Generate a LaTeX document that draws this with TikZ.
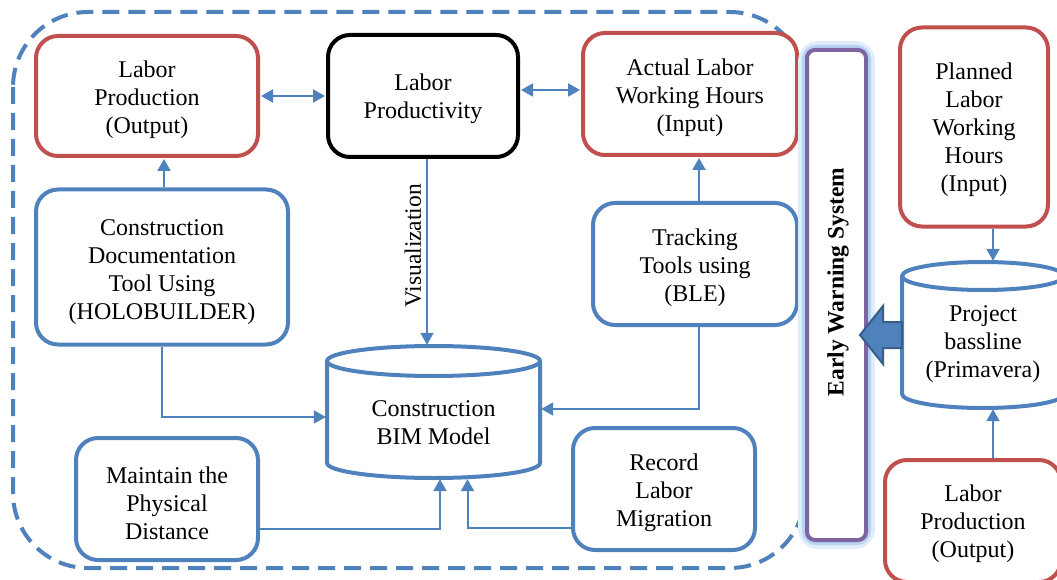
\documentclass[tikz,border=0pt]{standalone}
\usepackage{fontspec}
\setmainfont{Liberation Serif}
\usetikzlibrary{arrows.meta}
\definecolor{oblue}{HTML}{4F81BD}
\definecolor{ored}{HTML}{C0504D}
\definecolor{opurple}{HTML}{8064A2}
\definecolor{odark}{HTML}{385D8A}
\definecolor{glowout}{HTML}{E1ECFA}
\definecolor{glowin}{HTML}{B9D3F2}
\begin{document}
\begin{tikzpicture}[x=1pt,y=1pt,
  box/.style={draw, line width=4pt, rounded corners=22pt, fill=white, inner sep=0pt},
  redbox/.style={box, draw=ored},
  bluebox/.style={box, draw=oblue},
  blackbox/.style={box, draw=black},
  txt/.style={align=center, inner sep=0pt, font=\fontsize{24}{28}\selectfont},
  cylarea/.style={inner sep=0pt, draw=none},
  cylline/.style={draw=oblue, line width=4pt, fill=white},
  conn/.style={draw=oblue, line width=2pt, shorten >=1pt, -{Triangle[length=12pt,width=13pt]}},
  dconn/.style={draw=oblue, line width=2pt, shorten >=1pt, shorten <=1pt, {Triangle[length=12pt,width=13pt]}-{Triangle[length=12pt,width=13pt]}},
  group/.style={draw=oblue, line width=4pt, dash pattern=on 17pt off 9pt, rounded corners=75pt},
  ewsbox/.style={draw=opurple, line width=4pt, rounded corners=8pt, fill=white, inner sep=0pt},
  blockarrow/.style={fill=oblue, draw=odark, line width=2pt, line join=miter}
]
\useasboundingbox (0,0) rectangle (1057,-580);

% dashed group border
\draw[group] (13,-12) rectangle (805,-568);

% boxes in the group
\node[redbox, minimum width=222, minimum height=120] (lp) at (147,-96) {};
\node[txt] (lpt) at ([yshift=-4pt]lp.center) {Labor\\Production\\(Output)};
\node[blackbox, minimum width=190, minimum height=122] (prod) at (423,-96) {};
\node[txt] (prodt) at ([yshift=-3pt]prod.center) {Labor\\Productivity};
\node[redbox, minimum width=214, minimum height=122] (act) at (690,-94) {};
\node[txt] (actt) at ([yshift=-4pt]act.center) {Actual Labor\\Working Hours\\(Input)};
\node[bluebox, minimum width=252, minimum height=155] (holo) at (162,-267) {};
\node[txt] (holot) at ([yshift=-5pt]holo.center) {Construction\\Documentation\\Tool Using\\(HOLOBUILDER)};
\node[bluebox, minimum width=204, minimum height=122] (ble) at (695,-264) {};
\node[txt] (blet) at ([yshift=-4pt]ble.center) {Tracking\\Tools using\\(BLE)};
\node[bluebox, minimum width=182, minimum height=122] (dist) at (167,-499) {};
\node[txt] (distt) at ([yshift=-4pt]dist.center) {Maintain the\\Physical\\Distance};
\node[bluebox, minimum width=182, minimum height=122] (rec) at (664,-489) {};
\node[txt] (rect) at ([yshift=-4pt]rec.center) {Record\\Labor\\Migration};

% BIM cylinder
\node[cylarea, minimum width=213, minimum height=132] (bim) at (433.5,-412) {};
\draw[cylline] (327,-361) -- (327,-463) arc[start angle=180, end angle=360, x radius=106.5, y radius=15]
  -- (540,-361) arc[start angle=0, end angle=180, x radius=106.5, y radius=15] -- cycle;
\draw[cylline, fill=none] (327,-361) arc[start angle=180, end angle=360, x radius=106.5, y radius=15];
\node[txt] (bimtxt) at (433.5,-423) {Construction\\BIM Model};

% right side
\node[redbox, minimum width=148, minimum height=199] (plan) at (974,-127) {};
\node[txt] (plant) at ([yshift=-3pt]plan.center) {Planned\\Labor\\Working\\Hours\\(Input)};
\node[redbox, minimum width=176, minimum height=122] (lp2) at (973,-521) {};
\node[txt] (lp2t) at ([yshift=-3pt]lp2.center) {Labor\\Production\\(Output)};

\node[cylarea, minimum width=162, minimum height=146] (proj) at (983,-335) {};
\draw[cylline] (902,-276) -- (902,-394) arc[start angle=180, end angle=360, x radius=81, y radius=14]
  -- (1064,-276) arc[start angle=0, end angle=180, x radius=81, y radius=14] -- cycle;
\draw[cylline, fill=none] (902,-276) arc[start angle=180, end angle=360, x radius=81, y radius=14];
\node[txt] (projtxt) at (983,-344) {Project\\bassline\\(Primavera)};

% Early warning system
\draw[draw=glowout, line width=18pt, rounded corners=11pt] (807,-50) rectangle (866,-540);
\draw[draw=glowin, line width=10pt, rounded corners=9pt] (807,-50) rectangle (866,-540);
\node[ewsbox, minimum width=59, minimum height=490] (ews) at (836.5,-295) {};
\node[rotate=90, inner sep=0pt, font=\bfseries\fontsize{23.5}{28}\selectfont] (ewstxt) at (838,-282) {Early Warning System};

% block arrow from project baseline to EWS
\draw[blockarrow] (proj.west |- 0,-322) -- (883,-322) -- (883,-306) -- (860,-335) -- (883,-364) -- (883,-348) -- (proj.west |- 0,-348) -- cycle;

% connectors
\draw[dconn] (lp.east) -- (prod.west);
\draw[dconn] ([yshift=6pt]prod.east) -- ([yshift=6pt]prod.east -| act.west);
\draw[conn] ([xshift=2pt]holo.north) -- ([xshift=2pt]holo.north |- lp.south);
\draw[conn] ([xshift=4pt]ble.north) -- ([xshift=4pt]ble.north |- act.south);
\draw[conn] ([xshift=4pt]prod.south) -- ([xshift=4pt]prod.south |- bim.north);
\node[rotate=90, inner sep=0pt, font=\fontsize{23.5}{28}\selectfont] (vis) at (413,-246) {Visualization};
\draw[conn] (holo.south) |- ([yshift=-5pt]bim.west);
\draw[conn] ([xshift=4pt]ble.south) |- ([yshift=3pt]bim.east);
\draw[conn] ([yshift=-30pt]dist.east) -| ([xshift=6.5pt]bim.south);
\draw[conn] ([yshift=-39pt]rec.west) -| ([xshift=34pt]bim.south);
\draw[conn] ([xshift=19pt]plan.south) -- ([xshift=19pt]plan.south |- proj.north);
\draw[conn] ([xshift=20pt]lp2.north) -- ([xshift=20pt]lp2.north |- proj.south);
\end{tikzpicture}
\end{document}
